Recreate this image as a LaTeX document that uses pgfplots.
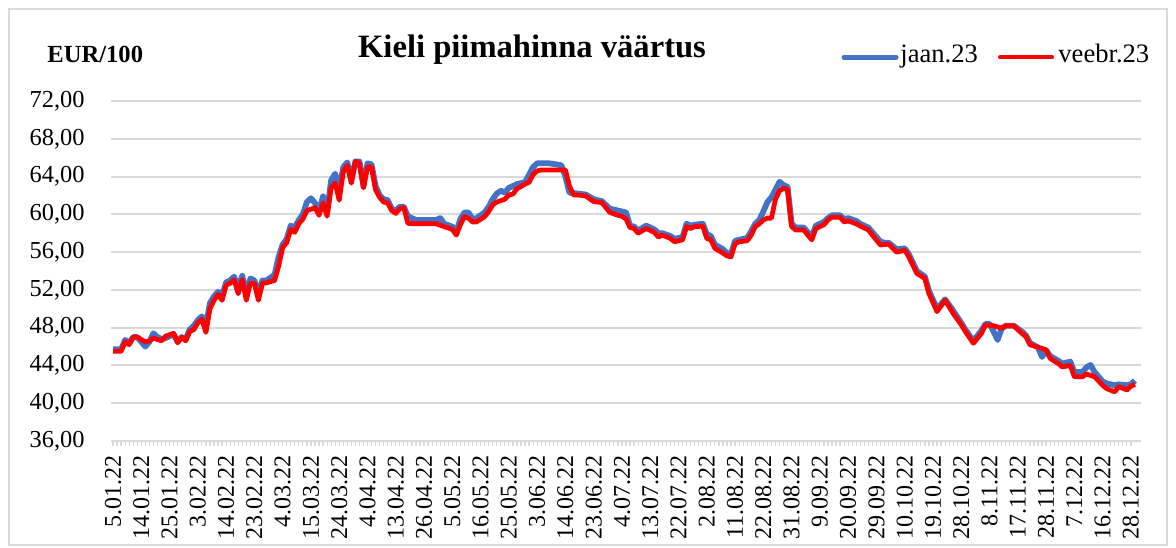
\documentclass[border=0pt]{standalone}
\usepackage{pgfplots}
\pgfplotsset{compat=1.18}
\usepackage{fontspec}
\setmainfont{Liberation Serif}
\definecolor{sblue}{HTML}{4472C4}
\definecolor{sred}{HTML}{FF0000}
\definecolor{lgray}{HTML}{D9D9D9}
\begin{document}
\begin{tikzpicture}
\useasboundingbox (0,0) rectangle (588pt,273.5pt);
\draw[lgray, line width=1pt] (4.5pt,0.8pt) rectangle (583.5pt,269pt);
\begin{axis}[
  at={(55.5pt,53pt)}, anchor=south west,
  scale only axis, width=515pt, height=170pt,
  xmin=-0.5, xmax=254.5, ymin=36, ymax=72,
  ytick={36,40,...,72},
  xtick={0,7,...,252},
  minor x tick num=6,
  xticklabels={5.01.22,14.01.22,25.01.22,3.02.22,14.02.22,23.02.22,4.03.22,15.03.22,24.03.22,4.04.22,13.04.22,26.04.22,5.05.22,16.05.22,25.05.22,3.06.22,14.06.22,23.06.22,4.07.22,13.07.22,22.07.22,2.08.22,11.08.22,22.08.22,31.08.22,9.09.22,20.09.22,29.09.22,10.10.22,19.10.22,28.10.22,8.11.22,17.11.22,28.11.22,7.12.22,16.12.22,28.12.22},
  xticklabel style={rotate=90, anchor=east, font=\fontsize{12}{14}\selectfont, inner sep=0pt, xshift=-4.5pt},
  yticklabel style={font=\fontsize{12.2}{14}\selectfont, inner sep=0pt, xshift=-10.5pt},
  y tick label style={/pgf/number format/fixed, /pgf/number format/fixed zerofill, /pgf/number format/precision=2, /pgf/number format/use comma},
  /pgf/number format/assume math mode=true,
  axis x line*=bottom, axis y line*=left,
  y axis line style={draw=none},
  x axis line style={draw=lgray, line width=1.2pt},
  ymajorgrids, grid style={lgray, line width=1pt},
  ytick style={draw=none},
  xtick style={draw=lgray, line width=0.6pt},
  tick align=outside,
  major tick length=2.5pt, minor tick length=2.5pt,
  clip=false,
]
\addplot[sblue, line width=2.9pt, line join=round] coordinates {
(0,45.7)(2,45.7)(3,46.7)(4,46.4)(5,47.0)(6,47.0)(7,46.5)(8,46.0)(9,46.5)(10,47.4)(11,47.0)(12,46.8)(13,46.9)(15,47.3)(16,46.5)(17,47.0)(18,46.8)(19,47.8)(20,48.2)(21,48.8)(22,49.2)(23,48.2)(24,50.6)(25,51.3)(26,51.8)(27,51.4)(28,52.8)(29,53.0)(30,53.4)(31,52.2)(32,53.5)(33,51.5)(34,53.2)(35,53.0)(36,51.6)(37,53.0)(38,53.0)(40,53.6)(41,55.5)(42,56.8)(43,57.4)(44,58.8)(45,58.6)(46,59.4)(47,60.0)(48,61.3)(49,61.7)(50,61.2)(51,60.3)(52,61.9)(53,60.2)(54,63.6)(55,64.3)(56,62.4)(57,65.0)(58,65.5)(59,63.6)(60,65.6)(61,65.6)(62,63.0)(63,65.4)(64,65.3)(65,63.0)(66,62.0)(67,61.6)(68,61.5)(69,60.6)(70,60.4)(71,60.8)(72,60.8)(73,59.8)(74,59.6)(75,59.4)(80,59.4)(81,59.6)(82,59.0)(84,58.7)(85,58.2)(86,59.5)(87,60.2)(88,60.2)(89,59.5)(90,59.6)(92,60.2)(93,60.8)(94,61.6)(95,62.2)(96,62.5)(97,62.3)(98,62.8)(99,63.0)(100,63.2)(102,63.4)(103,64.2)(104,65.0)(105,65.4)(108,65.4)(111,65.2)(112,64.0)(113,62.3)(115,62.2)(117,62.1)(119,61.6)(121,61.4)(123,60.6)(125,60.4)(127,60.2)(128,58.8)(129,58.7)(130,58.3)(132,58.8)(134,58.4)(135,58.0)(136,58.0)(138,57.7)(139,57.4)(141,57.6)(142,59.0)(143,58.8)(144,58.9)(146,59.0)(147,57.9)(148,57.7)(149,56.8)(151,56.3)(152,55.9)(153,55.8)(154,57.2)(155,57.3)(157,57.5)(158,58.2)(159,59.0)(160,59.4)(161,60.3)(162,61.3)(163,61.8)(164,62.6)(165,63.45)(166,63.1)(167,62.9)(168,59.0)(169,58.6)(171,58.6)(172,58.1)(173,57.6)(174,58.8)(175,59.0)(176,59.2)(177,59.6)(178,59.9)(180,59.9)(181,59.5)(182,59.6)(184,59.3)(185,59.0)(187,58.6)(188,58.1)(190,57.1)(191,57.0)(192,57.0)(194,56.3)(196,56.4)(197,55.8)(199,54.0)(201,53.4)(202,51.9)(204,50.0)(206,51.0)(208,49.8)(210,48.5)(211,47.8)(213,46.6)(215,47.7)(216,48.4)(217,48.4)(218,47.6)(219,46.7)(220,47.9)(221,48.2)(223,48.2)(225,47.6)(226,47.2)(227,46.4)(229,45.9)(230,44.9)(231,45.6)(232,45.0)(234,44.5)(235,44.2)(237,44.4)(238,43.3)(240,43.3)(241,43.8)(242,44.05)(243,43.3)(245,42.3)(246,42.1)(248,41.9)(249,42.0)(251,41.9)(252,42.0)(253,42.4)
};
\addplot[sred, line width=2.4pt, line join=round] coordinates {
(0,45.5)(2,45.5)(3,46.5)(4,46.2)(5,47.0)(6,47.0)(8,46.5)(9,46.6)(10,46.9)(12,46.6)(13,47.1)(15,47.4)(16,46.4)(17,47.0)(18,46.6)(19,47.6)(20,47.8)(21,48.5)(22,48.9)(23,47.5)(24,50.0)(25,50.9)(26,51.5)(27,50.9)(28,52.5)(29,52.7)(30,53.05)(31,51.6)(32,53.1)(33,50.9)(34,52.7)(35,52.7)(36,50.9)(37,52.7)(38,52.75)(40,53.0)(41,54.5)(42,56.5)(43,57.0)(44,58.4)(45,58.1)(46,59.0)(47,59.5)(48,60.4)(50,60.7)(51,59.9)(52,61.2)(53,59.8)(54,62.8)(55,63.3)(56,61.5)(57,64.5)(58,65.2)(59,63.3)(60,65.6)(61,65.4)(62,62.8)(63,65.0)(64,65.0)(65,62.6)(66,61.8)(67,61.3)(68,61.2)(69,60.4)(70,60.1)(71,60.6)(72,60.7)(73,59.05)(75,59.0)(80,59.0)(82,58.7)(84,58.4)(85,57.8)(86,58.9)(87,59.75)(88,59.6)(89,59.2)(90,59.2)(92,59.75)(93,60.3)(94,61.0)(95,61.3)(97,61.6)(98,62.05)(99,62.15)(100,62.7)(102,63.2)(103,63.4)(104,64.2)(105,64.6)(106,64.7)(112,64.7)(113,63.0)(114,62.05)(115,62.05)(117,61.95)(119,61.35)(121,61.25)(123,60.2)(125,59.9)(126,59.8)(127,59.5)(128,58.6)(129,58.5)(130,58.0)(132,58.5)(134,58.1)(135,57.6)(136,57.8)(138,57.45)(139,57.1)(141,57.3)(142,58.7)(143,58.5)(144,58.7)(146,58.75)(147,57.45)(148,57.3)(149,56.4)(151,55.9)(152,55.6)(153,55.5)(154,56.9)(155,57.1)(157,57.2)(158,57.8)(159,58.7)(160,59.0)(161,59.4)(162,59.6)(163,59.6)(164,61.6)(165,62.5)(166,62.75)(167,62.6)(168,58.7)(169,58.35)(171,58.35)(172,57.8)(173,57.3)(174,58.5)(175,58.7)(176,58.9)(177,59.4)(178,59.7)(180,59.7)(181,59.2)(182,59.3)(184,59.0)(185,58.75)(187,58.35)(188,57.8)(190,56.75)(191,56.8)(192,56.85)(194,56.0)(196,56.2)(197,55.5)(199,53.75)(201,53.2)(202,51.6)(204,49.7)(206,50.9)(208,49.5)(210,48.3)(211,47.6)(213,46.35)(215,47.4)(216,48.3)(218,48.2)(220,47.95)(221,48.2)(223,48.2)(225,47.4)(226,47.05)(227,46.2)(230,45.8)(231,45.65)(232,44.75)(234,44.2)(235,43.85)(237,44.0)(238,42.8)(240,42.8)(241,43.1)(243,42.8)(245,41.9)(246,41.55)(248,41.2)(249,41.75)(251,41.4)(252,41.8)(253,42.0)
};
\end{axis}
\node[anchor=base, font=\fontsize{16.3}{18}\selectfont\bfseries] at (266pt,244.5pt) {Kieli piimahinna väärtus};
\node[anchor=base west, inner sep=0pt, font=\fontsize{12.3}{14}\selectfont\bfseries] at (23.5pt,242pt) {EUR/100};
\draw[sblue, line width=2.5pt, line cap=round] (422pt,244.8pt) -- (448pt,244.8pt);
\node[anchor=base west, inner sep=0pt, font=\fontsize{13.3}{15}\selectfont] at (450pt,242pt) {jaan.23};
\draw[sred, line width=2pt, line cap=round] (500pt,244.8pt) -- (526pt,244.8pt);
\node[anchor=base west, inner sep=0pt, font=\fontsize{13.3}{15}\selectfont] at (529pt,242pt) {veebr.23};
\end{tikzpicture}
\end{document}
